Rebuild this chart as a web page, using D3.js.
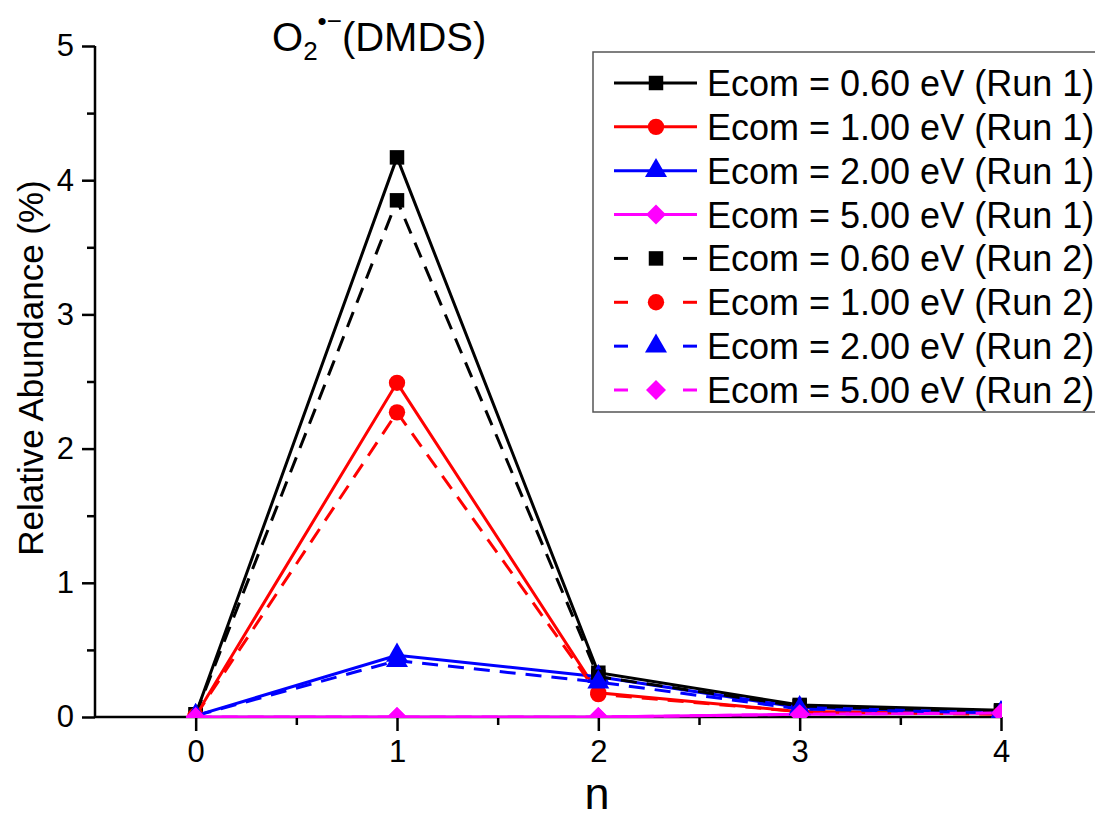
<!DOCTYPE html>
<html><head><meta charset="utf-8">
<script src="https://cdn.jsdelivr.net/npm/d3@7"></script>
<style>body{margin:0;background:#fff}svg{display:block}svg text{font-family:"Liberation Sans",Arial,sans-serif}.tick text{font-size:31px !important;fill:#000}</style>
</head><body><svg id="c" width="1095" height="818"></svg>
<script>
const nValues = [0, 1, 2, 3, 4];
const seriesNames = [
  "Ecom = 0.60 eV (Run 1)", "Ecom = 1.00 eV (Run 1)", "Ecom = 2.00 eV (Run 1)", "Ecom = 5.00 eV (Run 1)",
  "Ecom = 0.60 eV (Run 2)", "Ecom = 1.00 eV (Run 2)", "Ecom = 2.00 eV (Run 2)", "Ecom = 5.00 eV (Run 2)"
];
const run1_060 = [0.02, 4.17, 0.33, 0.09, 0.05];
const run1_100 = [0.01, 2.49, 0.18, 0.04, 0.03];
const run1_200 = [0.01, 0.46, 0.30, 0.07, 0.03];
const run1_500 = [0.00, 0.00, 0.00, 0.02, 0.03];
const run2_060 = [0.02, 3.85, 0.30, 0.08, 0.04];
const run2_100 = [0.01, 2.27, 0.17, 0.04, 0.02];
const run2_200 = [0.01, 0.42, 0.26, 0.06, 0.03];
const run2_500 = [0.00, 0.00, 0.00, 0.02, 0.03];
const seriesValues = [run1_060, run1_100, run1_200, run1_500, run2_060, run2_100, run2_200, run2_500];
const colors = ["#000000", "#ff0000", "#0000ff", "#ff00ff", "#000000", "#ff0000", "#0000ff", "#ff00ff"];
const shapes = ["square", "circle", "triangle", "diamond", "square", "circle", "triangle", "diamond"];
const dashed = [false, false, false, false, true, true, true, true];
const xTicks = [0, 1, 2, 3, 4];
const yTicks = [0, 1, 2, 3, 4, 5];

const svg = d3.select("#c");
const x = d3.scaleLinear().domain([-0.5, 4]).range([95, 1001]);
const y = d3.scaleLinear().domain([0, 5]).range([717, 46]);

const diamondType = { draw(ctx, size) { const r = Math.sqrt(size / 2); ctx.moveTo(0, -r); ctx.lineTo(r, 0); ctx.lineTo(0, r); ctx.lineTo(-r, 0); ctx.closePath(); } };
const symMap = {square: d3.symbolSquare, circle: d3.symbolCircle, triangle: d3.symbolTriangle, diamond: diamondType};
const symSize = {square: 210, circle: 210, triangle: 210, diamond: 200};
function sym(shape){ return d3.symbol().type(symMap[shape]).size(symSize[shape])(); }

// axes
const xAxis = d3.axisBottom(x).tickValues(xTicks).tickSize(14).tickPadding(9).tickFormat(d3.format("d"));
const gx = svg.append("g").attr("transform", "translate(0,717)").call(xAxis);
gx.select(".domain").attr("d", "M95,0H1001").attr("stroke-width", 2.5);
gx.selectAll(".tick line").attr("stroke-width", 2.5);
svg.append("g").attr("transform", "translate(0,717)")
  .call(d3.axisBottom(x).tickValues([0.5, 1.5, 2.5, 3.5]).tickSize(8).tickFormat(""))
  .call(g => { g.select(".domain").remove(); g.selectAll("line").attr("stroke-width", 2.5); });

const yAxis = d3.axisLeft(y).tickValues(yTicks).tickSize(13).tickPadding(8).tickFormat(d3.format("d"));
const gy = svg.append("g").attr("transform", "translate(95,0)").call(yAxis);
gy.select(".domain").attr("d", "M0,717V46").attr("stroke-width", 2.5);
gy.selectAll(".tick line").attr("stroke-width", 2.5);
svg.append("g").attr("transform", "translate(95,0)")
  .call(d3.axisLeft(y).tickValues([0.5, 1.5, 2.5, 3.5, 4.5]).tickSize(8).tickFormat(""))
  .call(g => { g.select(".domain").remove(); g.selectAll("line").attr("stroke-width", 2.5); });
svg.selectAll(".tick text").style("font-size", "31px").attr("fill", "#000");

// axis labels
svg.append("text").attr("x", 597).attr("y", 809).attr("text-anchor", "middle")
  .style("font-size", "45px").text("n");
svg.append("text").attr("transform", "translate(43,368) rotate(-90)").attr("text-anchor", "middle")
  .style("font-size", "35px").text("Relative Abundance (%)");

// title
const title = svg.append("text").attr("x", 272).attr("y", 51).style("font-size", "40px");
title.append("tspan").text("O");
title.append("tspan").style("font-size", "26px").attr("dy", 9).text("2");
title.append("tspan").style("font-size", "26px").attr("dy", -30).text("•−");
title.append("tspan").attr("dy", 21).text("(DMDS)");

// clip
svg.append("clipPath").attr("id", "plotclip").append("rect")
  .attr("x", 95).attr("y", 30).attr("width", 1002 - 95).attr("height", 718 - 30);

// lines
const plot = svg.append("g").attr("clip-path", "url(#plotclip)");
const line = d3.line().x((d, i) => x(nValues[i])).y(d => y(d));
d3.range(8).forEach(k => {
  const g = plot.append("g");
  g.append("path").attr("d", line(seriesValues[k])).attr("fill", "none")
    .attr("stroke", colors[k]).attr("stroke-width", 3)
    .attr("stroke-dasharray", dashed[k] ? "16,10" : null);
  g.selectAll("path.m").data(seriesValues[k]).join("path").attr("class", "m")
    .attr("d", sym(shapes[k]))
    .attr("transform", (d, i) => `translate(${x(nValues[i])},${y(d)})`)
    .attr("fill", colors[k]);
});

// legend
const lg = svg.append("g");
lg.append("rect").attr("x", 593).attr("y", 52).attr("width", 520).attr("height", 360)
  .attr("fill", "#fff").attr("stroke", "#555").attr("stroke-width", 1.5);
const ly = d3.scalePoint().domain(d3.range(8)).range([83, 390]);
seriesNames.forEach((name, k) => {
  const yy = ly(k);
  if (dashed[k]) {
    lg.append("line").attr("x1", 614).attr("x2", 628).attr("y1", yy).attr("y2", yy).attr("stroke", colors[k]).attr("stroke-width", 3);
    lg.append("line").attr("x1", 683).attr("x2", 697).attr("y1", yy).attr("y2", yy).attr("stroke", colors[k]).attr("stroke-width", 3);
  } else {
    lg.append("line").attr("x1", 614).attr("x2", 697).attr("y1", yy).attr("y2", yy).attr("stroke", colors[k]).attr("stroke-width", 3);
  }
  lg.append("path").attr("d", sym(shapes[k])).attr("transform", `translate(656,${yy})`).attr("fill", colors[k]);
  lg.append("text").attr("x", 707).attr("y", yy + 13).style("font-size", "36px").text(name);
});
</script></body></html>
